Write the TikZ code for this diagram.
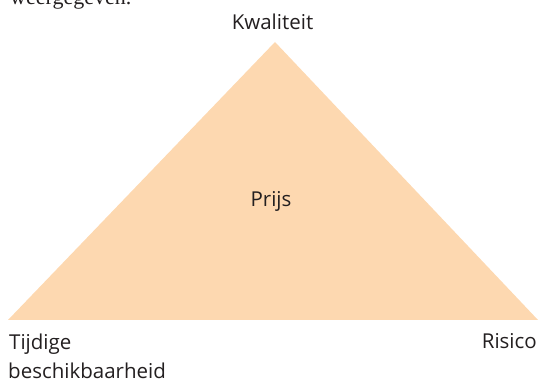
\documentclass[tikz,border=0pt]{standalone}
\usepackage{fontspec}
\setmainfont{Open Sans}
\newfontfamily\serifx{Liberation Serif}
\definecolor{peach}{HTML}{FDD8B0}
\definecolor{ink}{HTML}{231F20}
\begin{document}
\begin{tikzpicture}[x=1pt,y=-1pt,
  lbl/.style={font=\fontsize{20.5}{24}\selectfont, text=ink, inner sep=0pt}]
\useasboundingbox (0,0) rectangle (539,382);
\clip (0,0) rectangle (539,382);
\fill[peach] (8,320) coordinate (bl) -- (275,42) coordinate (top) -- (538,320) coordinate (br) -- cycle;
\node[lbl, anchor=base] (kw) at (272.5,30) {Kwaliteit};
\node[lbl, anchor=base] (pr) at (271,207) {Prijs};
\node[lbl, anchor=base west] (tb) at (9,350) {Tijdige};
\node[lbl, anchor=base west] (tb2) at (8,379) {beschikbaarheid};
\node[lbl, anchor=base east] (ri) at (537,349) {Risico};
\node[anchor=base west, inner sep=0pt, font=\serifx\fontsize{22}{26}\selectfont, text=ink] (wg) at (10,5) {weergegeven.};
\end{tikzpicture}
\end{document}
